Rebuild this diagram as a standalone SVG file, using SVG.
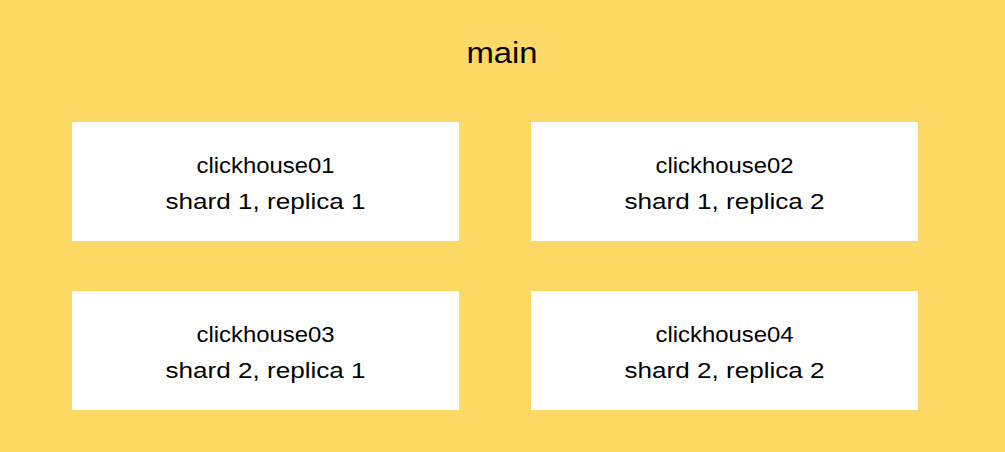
<svg xmlns="http://www.w3.org/2000/svg" width="1005" height="452" viewBox="0 0 1005 452">
<style>
.bg{fill:#FFD966}
.box{fill:#FFFFFF}
.t{font-family:"Liberation Sans",Arial,sans-serif;font-size:22px;fill:#000;text-anchor:middle}
.title{font-family:"Liberation Sans",Arial,sans-serif;font-size:30px;fill:#000;text-anchor:middle}
</style>
<rect class="bg" x="0" y="0" width="1005" height="452"/>
<text class="title" x="502" y="63" textLength="71" lengthAdjust="spacingAndGlyphs">main</text>
<g id="clickhouse01">
<rect class="box" x="72" y="122" width="387" height="119"/>
<text class="t" x="265.5" y="173" textLength="138" lengthAdjust="spacingAndGlyphs">clickhouse01</text>
<text class="t" x="265.5" y="209" textLength="200" lengthAdjust="spacingAndGlyphs">shard 1, replica 1</text>
</g>
<g id="clickhouse02">
<rect class="box" x="531" y="122" width="387" height="119"/>
<text class="t" x="724.5" y="173" textLength="138" lengthAdjust="spacingAndGlyphs">clickhouse02</text>
<text class="t" x="724.5" y="209" textLength="200" lengthAdjust="spacingAndGlyphs">shard 1, replica 2</text>
</g>
<g id="clickhouse03">
<rect class="box" x="72" y="291" width="387" height="119"/>
<text class="t" x="265.5" y="342" textLength="138" lengthAdjust="spacingAndGlyphs">clickhouse03</text>
<text class="t" x="265.5" y="378" textLength="200" lengthAdjust="spacingAndGlyphs">shard 2, replica 1</text>
</g>
<g id="clickhouse04">
<rect class="box" x="531" y="291" width="387" height="119"/>
<text class="t" x="724.5" y="342" textLength="138" lengthAdjust="spacingAndGlyphs">clickhouse04</text>
<text class="t" x="724.5" y="378" textLength="200" lengthAdjust="spacingAndGlyphs">shard 2, replica 2</text>
</g>
<g id="connectors"></g>
</svg>
